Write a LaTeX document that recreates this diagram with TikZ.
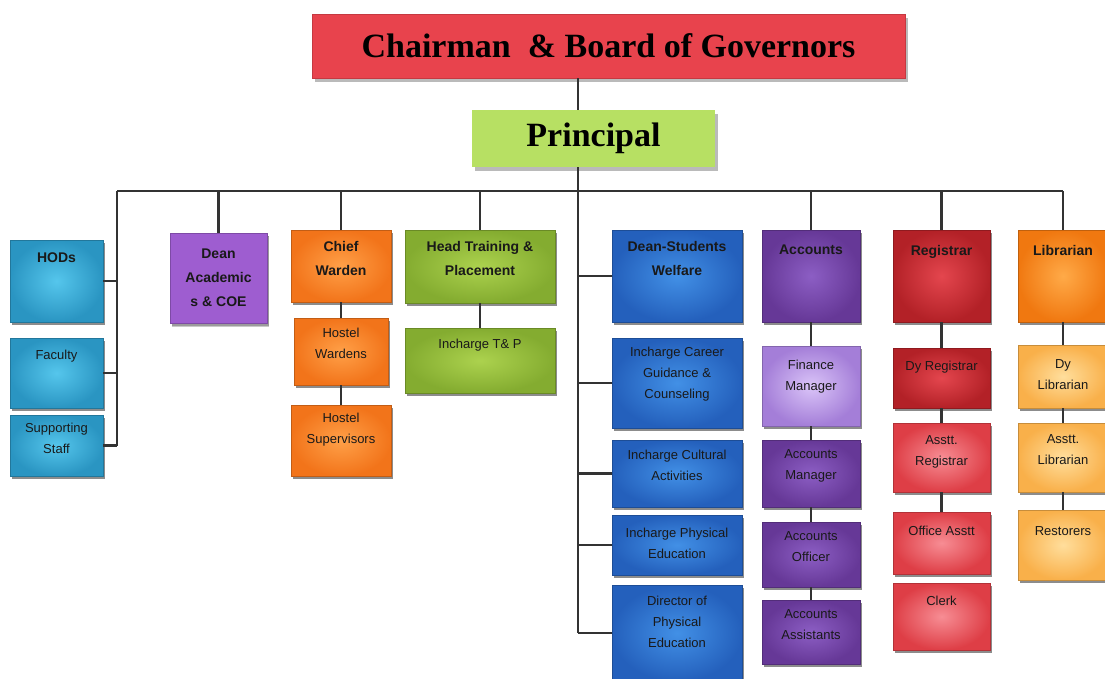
\documentclass[tikz,border=0pt]{standalone}
\usepackage{fontspec}
\setmainfont{Liberation Sans}
\newfontfamily\titlefont{Liberation Serif}
\usetikzlibrary{shadows}

\definecolor{chairred}{HTML}{E8434D}
\definecolor{princgreen}{HTML}{B7E063}
\definecolor{deanpurple}{HTML}{9E5DD0}
\definecolor{hodout}{HTML}{2A95C2}   \definecolor{hodin}{HTML}{55C6EC}
\definecolor{wardout}{HTML}{F2741A}  \definecolor{wardin}{HTML}{FFA048}
\definecolor{tpout}{HTML}{84AC30}    \definecolor{tpin}{HTML}{ACD24E}
\definecolor{dswout}{HTML}{2460BC}   \definecolor{dswin}{HTML}{4290E6}
\definecolor{accout}{HTML}{663897}   \definecolor{accin}{HTML}{8C5EC4}
\definecolor{finout}{HTML}{A47ED8}   \definecolor{finin}{HTML}{DAC4F8}
\definecolor{regout}{HTML}{B32127}   \definecolor{regin}{HTML}{E4464E}
\definecolor{clerkout}{HTML}{DE3E46} \definecolor{clerkin}{HTML}{F78D94}
\definecolor{libout}{HTML}{F07810}   \definecolor{libin}{HTML}{FFAA48}
\definecolor{dylibout}{HTML}{F9B04A} \definecolor{dylibin}{HTML}{FFDE9C}

\tikzstyle{unit} = [rectangle, align=center, inner sep=2pt, text=black!90,
  drop shadow={shadow xshift=1.5pt, shadow yshift=-2.5pt, fill=black, opacity=.45}]
\tikzstyle{head} = [unit, font=\bfseries\fontsize{14}{24}\selectfont]
\tikzstyle{post} = [unit, font=\fontsize{13}{21}\selectfont]
\tikzstyle{top} = [rectangle, font=\titlefont\bfseries\fontsize{34}{40}\selectfont,
  drop shadow={shadow xshift=3pt, shadow yshift=-4pt, fill=black!45, opacity=.6}]
\tikzstyle{link} = [line width=2.5pt, draw=black!80]
\tikzset{
  paint/.style 2 args={inner color=#1, outer color=#2, draw=#2!80!black},
  lift/.style={text depth=#1pt}
}

\begin{document}
\begin{tikzpicture}[x=1pt, y=-1pt]
  \useasboundingbox (0,0) rectangle (1105,679);
  \fill[white] (0,0) rectangle (1105,679);

  % top of the chart
  \node[top, fill=chairred, draw=chairred!85!black, minimum width=593pt, minimum height=64pt] (chair) at (608.5,46) {Chairman\ \ \& Board of Governors};
  \node[top, fill=princgreen, minimum width=243pt, minimum height=57pt] (principal) at (593.5,138.5) {Principal};

  \coordinate (spine) at (578,191);
  \coordinate (busL) at (117,191);

  % HODs
  \node[head, paint={hodin}{hodout}, minimum width=93pt, minimum height=82pt, lift=46] (hods) at (56.5,281) {HODs};
  \node[post, paint={hodin}{hodout}, minimum width=93pt, minimum height=70pt, lift=36] (faculty) at (56.5,373) {Faculty};
  \node[post, paint={hodin}{hodout}, minimum width=93pt, minimum height=61pt, lift=14] (staff) at (56.5,445.5) {Supporting\\Staff};

  % Dean Academics
  \node[head, fill=deanpurple, draw=deanpurple!80!black, minimum width=97pt, minimum height=90pt,
    drop shadow={shadow xshift=2pt, shadow yshift=-4pt, fill=black!35, opacity=.6}] (deanac) at (218.5,278) {Dean\\Academic\\s \& COE};

  % Chief Warden
  \node[head, paint={wardin}{wardout}, minimum width=100pt, minimum height=72pt, lift=16] (chief) at (341,266) {Chief\\Warden};
  \node[post, paint={wardin}{wardout}, minimum width=94pt, minimum height=67pt, lift=16] (hwarden) at (341,351.5) {Hostel\\Wardens};
  \node[post, paint={wardin}{wardout}, minimum width=100pt, minimum height=71pt, lift=24] (hsuper) at (341,440.5) {Hostel\\Supervisors};

  % Training & Placement
  \node[head, paint={tpin}{tpout}, minimum width=150pt, minimum height=73pt, lift=16] (htp) at (480,266.5) {Head Training \&\\Placement};
  \node[post, paint={tpin}{tpout}, minimum width=150pt, minimum height=65pt, lift=34] (itp) at (480,360.5) {Incharge T\& P};

  % Dean Students Welfare
  \node[head, paint={dswin}{dswout}, minimum width=130pt, minimum height=92pt, lift=36] (dsw) at (677,276) {Dean-Students\\Welfare};
  \node[post, paint={dswin}{dswout}, minimum width=130pt, minimum height=90pt, lift=20] (career) at (677,383) {Incharge Career\\Guidance \&\\Counseling};
  \node[post, paint={dswin}{dswout}, minimum width=130pt, minimum height=67pt, lift=16] (cultural) at (677,473.5) {Incharge Cultural\\Activities};
  \node[post, paint={dswin}{dswout}, minimum width=130pt, minimum height=60pt, lift=4] (physed) at (677,545) {Incharge Physical\\Education};
  \node[post, paint={dswin}{dswout}, minimum width=130pt, minimum height=96pt, lift=22] (dirpe) at (677,633) {Director of\\Physical\\Education};

  % Accounts
  \node[head, paint={accin}{accout}, minimum width=98pt, minimum height=92pt, lift=52] (accounts) at (811,276) {Accounts};
  \node[post, paint={finin}{finout}, minimum width=98pt, minimum height=80pt, lift=22] (finmgr) at (811,386) {Finance\\Manager};
  \node[post, paint={accin}{accout}, minimum width=98pt, minimum height=67pt, lift=18] (accmgr) at (811,473.5) {Accounts\\Manager};
  \node[post, paint={accin}{accout}, minimum width=98pt, minimum height=65pt, lift=16] (accoff) at (811,554.5) {Accounts\\Officer};
  \node[post, paint={accin}{accout}, minimum width=98pt, minimum height=64pt, lift=14] (accasst) at (811,632) {Accounts\\Assistants};

  % Registrar
  \node[head, paint={regin}{regout}, minimum width=97pt, minimum height=92pt, lift=52] (registrar) at (941.5,276) {Registrar};
  \node[post, paint={regin}{regout}, minimum width=97pt, minimum height=60pt, lift=24] (dyreg) at (941.5,378) {Dy Registrar};
  \node[post, paint={clerkin}{clerkout}, minimum width=97pt, minimum height=69pt, lift=14] (asstreg) at (941.5,457.5) {Asstt.\\Registrar};
  \node[post, paint={clerkin}{clerkout}, minimum width=97pt, minimum height=62pt, lift=24] (office) at (941.5,543) {Office Asstt};
  \node[post, paint={clerkin}{clerkout}, minimum width=97pt, minimum height=67pt, lift=32] (clerk) at (941.5,616.5) {Clerk};

  % Librarian
  \node[head, paint={libin}{libout}, minimum width=90pt, minimum height=92pt, lift=52] (librarian) at (1063,276) {Librarian};
  \node[post, paint={dylibin}{dylibout}, minimum width=90pt, minimum height=63pt, lift=4] (dylib) at (1063,376.5) {Dy\\Librarian};
  \node[post, paint={dylibin}{dylibout}, minimum width=90pt, minimum height=69pt, lift=16] (asstlib) at (1063,457.5) {Asstt.\\Librarian};
  \node[post, paint={dylibin}{dylibout}, minimum width=90pt, minimum height=70pt, lift=28] (restorers) at (1063,545) {Restorers};

  % connectors
  \draw[link] (chair.south -| spine) -- (principal.north -| spine);
  \draw[link] (principal.south -| spine) -- (spine |- dirpe.west);
  \draw[link] (busL) -- (librarian.north |- busL);
  \draw[link] (busL) -- (busL |- staff.east);
  \foreach \n in {hods, faculty, staff}
    \draw[link] (\n.east) -- (\n.east -| busL);
  \foreach \n in {deanac, chief, htp, accounts, registrar, librarian}
    \draw[link] (\n.north) -- (\n.north |- busL);
  \foreach \n in {dsw, career, cultural, physed, dirpe}
    \draw[link] (\n.west) -- (\n.west -| spine);
  \foreach \a/\b in {chief/hwarden, hwarden/hsuper, htp/itp,
      accounts/finmgr, finmgr/accmgr, accmgr/accoff, accoff/accasst,
      registrar/dyreg, dyreg/asstreg, asstreg/office,
      librarian/dylib, dylib/asstlib, asstlib/restorers}
    \draw[link] (\a.south) -- (\a.south |- \b.north);
\end{tikzpicture}
\end{document}
